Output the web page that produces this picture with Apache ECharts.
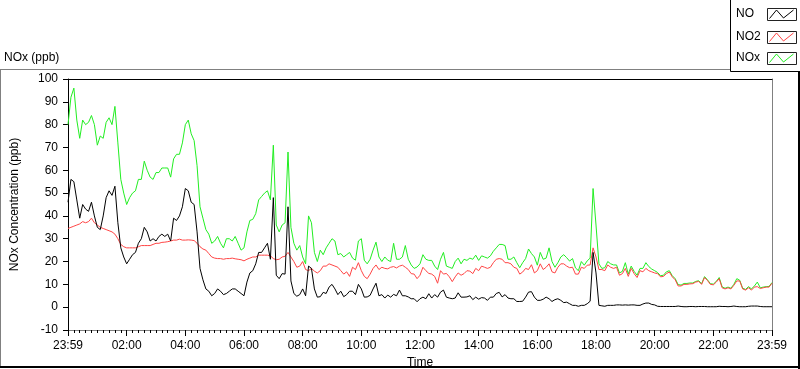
<!DOCTYPE html>
<html><head><meta charset="utf-8">
<script src="https://cdn.jsdelivr.net/npm/echarts@6/dist/echarts.min.js"></script>
<style>html,body{margin:0;padding:0;background:#fff}#c{width:800px;height:369px}</style>
</head><body><div id="c"></div>
<script>
// sampling step of the series, minutes from the left edge (23:59)
const STEP_MIN = 6;
const seriesNames = ['NO', 'NO2', 'NOx'];
const xTickLabels = ['23:59','02:00','04:00','06:00','08:00','10:00','12:00','14:00','16:00','18:00','20:00','22:00','23:59'];
const yTickValues = [-10,0,10,20,30,40,50,60,70,80,90,100];

const noValues = [
46,56,55,47,39,45,43,42,46,40,35,34,40,48,51,49,53,37,26,22,19,21,23,24,28,30,35,33,29,30,29,31,32,31,32,29,39,38,40,44,52,51,46,45,33,17,12,8,7,5,6,8,7,5.5,6,7,8,8,7,6,5,11,
15,16,19,24,24,26,28,21,48,14,12.5,14.7,14.5,44,11.5,6,4.8,5.5,8,5,18,17,8,4.4,4.6,6.5,6,8.8,10,8,5.5,7,4.6,5.5,7,7,5.5,10,8,4.4,4.5,5.2,8,10.5,5,5.5,4,5.3,4.4,5.6,5,7.5,5,5,4.5,3.7,3.7,2.4,3.7,4.4,
3.7,5.9,4,5.5,4.4,6.6,7.5,4.4,4,3.7,4,6.3,4.4,4.4,4.5,5,3.3,4.4,3.5,4.2,4,3,4.4,4.4,6,6.5,4.5,5.5,4,3.7,3.7,2.5,2.5,2.6,4.4,6.6,6.8,4.4,3,3,3.5,4.4,3.7,2.5,3.3,3.7,3,2,2.2,1.5,0.8,0.8,0.4,0.8,0.8,1.5,2.6,24,15,0.8,0.6,0.4,
0.8,0.8,0.8,1,1,0.9,1,0.9,1,1,0.8,0.8,1.4,1.8,1.8,1.2,1,0.4,0.3,0.3,0.3,0.3,0.3,0.3,0.5,0.3,0.2,0.2,0.3,0.3,0.2,0.3,0.3,0.3,0.2,0.2,0.2,0.2,0.4,0.3,0.3,0.2,0.3,0.5,0.3,0.2,0.2,0.2,0.4,0.5,0.5,0.5,0.3,0.2,0.2,0.2,0.2
];
const no2Values = [
34.5,35,35.5,36,36.5,37.5,37,37.5,39,37,36,35,34.5,34,33.5,33,32,30,27.5,26.5,26,26,26,26,26.5,27,27,27,27,27.5,28,28,28.4,28.5,28.7,29,29.4,29.4,29.8,29.4,29.4,29.5,29.4,29.2,28,26.5,25.5,25,23.5,22,21.5,21.3,21.3,21,21.3,21.3,21.5,21.2,21,20.8,20.3,21,
21.5,22,22,22.8,22.8,22.8,22.8,22.5,21.3,20.8,21,22,22.3,24,22,20,17.5,18,20,16.5,16,17,15.8,15,16,18,18,19,18.5,18,17.5,16,14.5,15.5,13.5,17.5,16.5,19.5,16,13.5,12.5,14.5,17,18.5,16.5,17.5,17,16.8,17.5,17.8,17.2,18,18.4,17.5,16.5,14.7,14.5,12.5,14,17.5,
16,14.8,14.5,13.5,10.5,16,14.5,14.8,13.3,11.2,13.3,15,14,14.7,16,15.8,14.7,17,16,18,17.5,17,17.5,19.5,21,21.3,21,19.5,19.5,19,17.5,17,14.5,15.4,17,16.5,18.6,15,16,19,16.5,17.5,19,15.5,15,17.5,19,19,18,17.3,17.5,14.5,14.5,17.5,17,18.4,18.5,26,22,16.5,16.5,16,
18.5,17.5,17,17.5,14,14.7,17,13.5,17,14.7,13,16,15.5,17,16,15.5,15,14.7,13.3,13.5,14.7,15.4,13.3,12,9.3,9.3,10,10,10.2,10.3,11,11.3,10,13,11.7,10,9.8,11,12.5,8.5,8,8.5,8,9.6,11.5,11.5,8,7.5,8.5,7.5,8.8,9,8.2,8.5,8.8,8.8,10.5
];
const noxValues = [
80,92,96,82,74,82,80,81,84,80,71,75,74,81,83,80,88,72,56,50,45,48,50,51,56,56,64,60,57,56,59,59,61,61,61,57,65,67,67,72,80,82,76,73,62,44,39,34,32,28,29,31,28,26,30,30,29,31,28,25,26,33,
38,38.5,41,47,48.5,50,51,47,71,36,33,36,37,68,35,28,25,27,22,19,40,37,24,20,25,23,26,28,30,29,23,23.5,22,23,24,21.5,20.6,29,30,20.6,19,21,25,28.5,22,20,22,20.6,20,28,21,21,22,27,21,18.5,17,17.6,19,23,
21,20.5,20.5,18,16.5,21,24,18,17.5,17,20,21.5,19,21,20.5,21.5,21,22.8,20.5,22.5,22,21.5,22.5,24.5,26,27.5,27.5,27,21,21,22,19.5,17.3,19.5,21.3,25.5,23.5,22,18.4,24,21,21.5,26,20,17.5,19.5,22,23,21.7,20.2,21.3,17.2,16,20,18.4,20.3,21.5,52,36,19,17,17.3,
20,19,18.5,18.5,15,15.7,19.5,14.5,18,15.7,14,17,17,19.5,17.8,16.7,16,15.2,13.8,14,15.5,16,13.8,12.5,9.9,9.7,10.4,10.4,10.6,10.6,11.3,11.6,10.3,13.4,12,10.3,10.1,11.3,13,8.9,8.3,8.8,8.3,10,12.5,11.8,8.3,7.8,9,8,9.3,11,8.5,8.8,9,9.1,10.8
];

const colors = { NO: '#000000', NO2: '#ff4545', NOx: '#22ee22' };
const FONT = 'Liberation Sans';
const TXT = { color: '#000', fontFamily: FONT, fontSize: 12 };

function toPoints(arr) { return arr.map((v, i) => [i * STEP_MIN, v]); }

const chart = echarts.init(document.getElementById('c'), null, { renderer: 'canvas' });

function legendItem(name, idx) {
  const cy = [8.5, 31.5, 52.5][idx];
  return [
    { type: 'text', left: 736, top: cy - 1, style: { text: name, fill: '#000', font: '12px ' + FONT } },
    { type: 'rect', shape: { x: 767.5, y: cy, width: 29, height: 12 }, style: { fill: '#fff', stroke: '#222', lineWidth: 1 } },
    { type: 'polyline', shape: { points: [[769.5, cy + 10], [776.5, cy + 1.5], [783.5, cy + 9.5], [793.5, cy + 1.5]] }, style: { stroke: colors[name], lineWidth: 1, fill: null } }
  ];
}

const graphics = [
  { type: 'line', shape: { x1: 0, y1: 69.5, x2: 730, y2: 69.5 }, style: { stroke: '#808080', lineWidth: 1 } },
  { type: 'line', shape: { x1: 0.5, y1: 69.5, x2: 0.5, y2: 367 }, style: { stroke: '#808080', lineWidth: 1 } },
  { type: 'line', shape: { x1: 0, y1: 367, x2: 800, y2: 367 }, style: { stroke: '#000', lineWidth: 2 } },
  { type: 'line', shape: { x1: 799, y1: 72, x2: 799, y2: 369 }, style: { stroke: '#000', lineWidth: 2 } },
  { type: 'rect', shape: { x: 730.5, y: -1, width: 72, height: 72.5 }, style: { fill: '#fff', stroke: '#000', lineWidth: 1 } },
  { type: 'text', left: 4, top: 52, style: { text: 'NOx (ppb)', fill: '#000', font: '12px ' + FONT } }
].concat(legendItem('NO', 0), legendItem('NO2', 1), legendItem('NOx', 2));

const option = {
  animation: false,
  backgroundColor: '#fff',
  grid: { left: 68, right: 28, top: 79, bottom: 39, containLabel: false, outerBoundsMode: 'none' },
  xAxis: [
    {
      type: 'value', min: 0, max: 1440, interval: 120, position: 'bottom',
      axisLine: { show: true, onZero: false, lineStyle: { color: '#808080', width: 1 } },
      axisTick: { show: true, length: 6, lineStyle: { color: '#000' } },
      minorTick: { show: true, splitNumber: 10, length: 3, lineStyle: { color: '#000' } },
      splitLine: { show: false },
      axisLabel: Object.assign({ margin: 10, formatter: v => xTickLabels[Math.round(v / 120)] }, TXT),
      name: 'Time', nameLocation: 'middle', nameGap: 24.5, nameTextStyle: TXT
    },
    {
      type: 'value', min: 0, max: 1440, position: 'top',
      axisLine: { show: true, onZero: false, lineStyle: { color: '#000', width: 1 } },
      axisTick: { show: false }, axisLabel: { show: false }, splitLine: { show: false }
    }
  ],
  yAxis: [
    {
      type: 'value', min: yTickValues[0], max: yTickValues[yTickValues.length - 1], interval: 10,
      axisLine: { show: true, onZero: false, lineStyle: { color: '#000', width: 1 } },
      axisTick: { show: true, length: 5, lineStyle: { color: '#000' } },
      splitLine: { show: false },
      axisLabel: Object.assign({ margin: 10 }, TXT),
      name: 'NOx Concentration (ppb)', nameLocation: 'middle', nameGap: 47, nameRotate: 90, nameTextStyle: TXT
    },
    {
      type: 'value', min: yTickValues[0], max: yTickValues[yTickValues.length - 1], position: 'right',
      axisLine: { show: true, onZero: false, lineStyle: { color: '#808080', width: 1 } },
      axisTick: { show: false }, axisLabel: { show: false }, splitLine: { show: false }
    }
  ],
  series: [
    { name: 'NOx', type: 'line', data: toPoints(noxValues), symbol: 'none', showSymbol: false, z: 2,
      lineStyle: { width: 1, color: colors.NOx }, itemStyle: { color: colors.NOx } },
    { name: 'NO2', type: 'line', data: toPoints(no2Values), symbol: 'none', showSymbol: false, z: 3,
      lineStyle: { width: 1, color: colors.NO2 }, itemStyle: { color: colors.NO2 } },
    { name: 'NO', type: 'line', data: toPoints(noValues), symbol: 'none', showSymbol: false, z: 4,
      lineStyle: { width: 1, color: colors.NO }, itemStyle: { color: colors.NO } }
  ],
  graphic: graphics
};
chart.setOption(option);
</script>
</body></html>
